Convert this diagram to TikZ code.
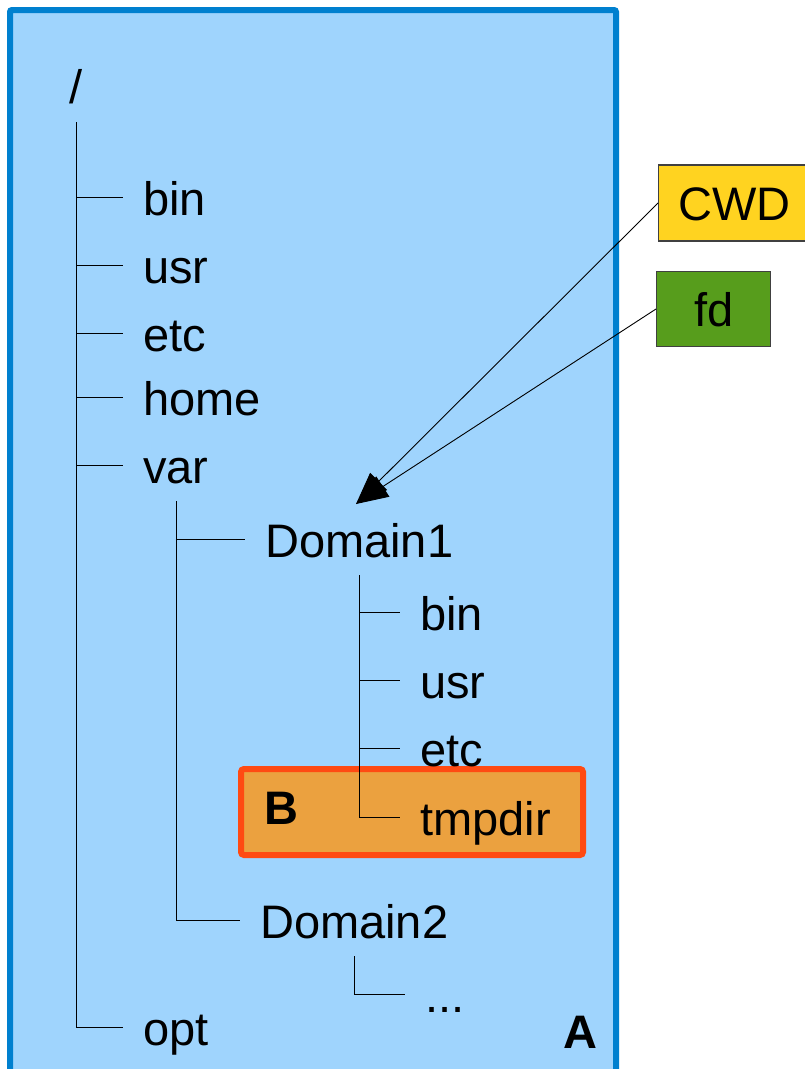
\documentclass[tikz,border=0pt]{standalone}
\usepackage{fontspec}
\setmainfont{Liberation Sans}
\usetikzlibrary{arrows.meta}
\definecolor{skyfill}{HTML}{9FD4FD}
\definecolor{skyline}{HTML}{0080CF}
\definecolor{boxfill}{HTML}{EBA13F}
\definecolor{boxline}{HTML}{FF4A12}
\definecolor{cwdfill}{HTML}{FFD320}
\definecolor{fdfill}{HTML}{579D1C}

\begin{document}
\begin{tikzpicture}[x=1pt, y=-1pt, font=\fontsize{47}{56}\selectfont,
  entry/.style={anchor=west, inner xsep=20pt, inner ysep=18pt, text height=36pt, text depth=0pt},
  tag/.style={draw=black!75, line width=1.2pt, anchor=west, inner sep=0pt, text height=34pt, text depth=0pt},
  ptr/.style={line width=0.9pt, -{Triangle[length=32pt, width=24pt]}}]
  \useasboundingbox (0,0) rectangle (804,1069);
  \draw[skyline, fill=skyfill, line width=6pt, rounded corners=2pt] (10,10) rectangle (616,1095);
  \draw[boxline, fill=boxfill, line width=6pt, rounded corners=3pt] (241,769) rectangle (583,855);
  \node[font=\fontsize{47}{56}\selectfont\bfseries] (lblB) at (281,808) {B};
  \node[font=\fontsize{47}{56}\selectfont\bfseries] (lblA) at (580,1032) {A};

  % top level
  \node[entry, anchor=south] (root) at (76,122) {/};
  \node[entry] (bin) at (123,197) {bin};
  \node[entry] (usr) at (123,265) {usr};
  \node[entry] (etc) at (123,333) {etc};
  \node[entry] (home) at (123,397) {home};
  \node[entry] (var) at (123,465) {var};
  \node[entry] (opt) at (123,1027) {opt};
  % under var
  \node[entry] (done) at (245,539) {Domain1};
  \node[entry] (dtwo) at (240,920) {Domain2};
  \node[entry] (sbin) at (400,612) {bin};
  \node[entry] (susr) at (400,680) {usr};
  \node[entry] (setc) at (400,748) {etc};
  \node[entry] (tmp) at (400,817) {tmpdir};
  \node[entry] (more) at (405,994) {...};

  \draw (root.south) |- (opt.west);
  \foreach \n in {bin,usr,etc,home,var}
    \draw (root.south |- \n.west) -- (\n.west);
  \draw (var.south) |- (dtwo.west);
  \draw (var.south |- done.west) -- (done.west);
  \draw (done.south) |- (tmp.west);
  \foreach \n in {sbin,susr,setc}
    \draw (done.south |- \n.west) -- (\n.west);
  \draw (dtwo.south) |- (more.west);

  % handles
  \node[tag, fill=cwdfill, minimum width=152pt, minimum height=76pt] (cwd) at (658,203) {CWD};
  \node[tag, fill=fdfill, minimum width=114pt, minimum height=75pt] (fd) at (656,309) {fd};
  \coordinate (tip) at (356,504);
  \draw[ptr] (cwd.west) -- (tip);
  \draw[ptr] (fd.west) -- (tip);
\end{tikzpicture}
\end{document}
